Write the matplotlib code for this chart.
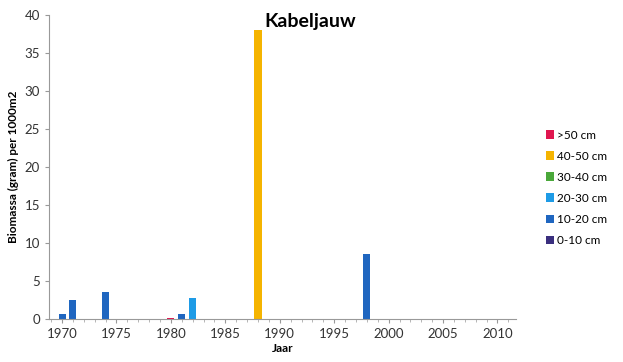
import matplotlib.pyplot as plt
import numpy as np

plt.rcParams['font.family'] = ['Lato', 'DejaVu Sans']

# jaren met vangst (andere jaren 0)
jaren = [1970, 1971, 1974, 1980, 1981, 1982, 1988, 1998]
cm_0_10 = [0.0, 0.0, 0.0, 0.0, 0.0, 0.0, 0.0, 0.0]
cm_10_20 = [0.7, 2.5, 3.5, 0.0, 0.6, 0.0, 0.0, 8.5]
cm_20_30 = [0.0, 0.0, 0.0, 0.0, 0.0, 2.7, 0.0, 0.0]
cm_30_40 = [0.0, 0.0, 0.0, 0.0, 0.0, 0.0, 0.0, 0.0]
cm_40_50 = [0.0, 0.0, 0.0, 0.0, 0.0, 0.0, 38.0, 0.0]
cm_50 = [0.0, 0.0, 0.0, 0.15, 0.0, 0.0, 0.0, 0.0]

klassen = ['0-10 cm', '10-20 cm', '20-30 cm', '30-40 cm', '40-50 cm', '>50 cm']
reeksen = [cm_0_10, cm_10_20, cm_20_30, cm_30_40, cm_40_50, cm_50]
kleuren = ['#3a2f7e', '#1f66c0', '#1e9be6', '#4aa83a', '#f5b400', '#e0164f']

fig = plt.figure(figsize=(6.23, 3.62), dpi=100)
ax = fig.add_axes([49 / 623, 1 - 319 / 362, (516 - 49) / 623, (319 - 15) / 362])

bottom = np.zeros(len(jaren))
for naam, vals, kl in zip(klassen, reeksen, kleuren):
    ax.bar(jaren, vals, width=0.65, bottom=bottom, color=kl, label=naam)
    bottom += np.array(vals)

ax.set_xlim(1968.8, 2011.7)
ax.set_ylim(0, 40)
ax.set_xticks(range(1970, 2011, 5))
ax.set_yticks(range(0, 41, 5))
ax.set_xticks(range(1969, 2012), minor=True)
ax.tick_params(axis='both', labelsize=9.5, colors='#333333', length=3, color='#999999')
ax.tick_params(axis='x', which='minor', length=2, color='#aaaaaa')
for s in ['top', 'right']:
    ax.spines[s].set_visible(False)
ax.spines['left'].set_color('#999999')
ax.spines['bottom'].set_color('#999999')
ax.spines['bottom'].set_linestyle((0, (2, 1)))

ax.set_ylabel('Biomassa (gram) per 1000m2', fontsize=8.5, fontweight='bold', labelpad=4)
ax.set_xlabel('Jaar', fontsize=8.5, fontweight='bold', labelpad=2)
fig.text(310 / 623, 1 - 22 / 362, 'Kabeljauw', fontsize=14, fontweight='bold',
         ha='center', va='center')

h, l = ax.get_legend_handles_labels()
fig.legend(h[::-1], l[::-1], loc='upper left', bbox_to_anchor=(535 / 623, 1 - 119 / 362),
           frameon=False, fontsize=8.5, handlelength=0.7, handleheight=0.7,
           labelspacing=0.85, handletextpad=0.3)

fig.savefig('out.png', dpi=100)
